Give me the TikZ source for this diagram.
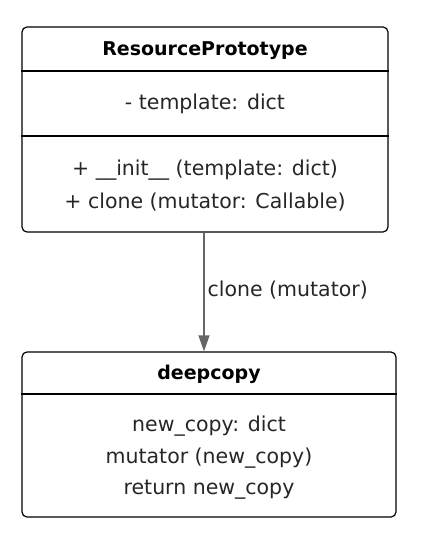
\documentclass[tikz,border=0pt]{standalone}
\usepackage{fontspec}
\setmainfont{DejaVu Sans}
\usetikzlibrary{arrows.meta}
\begin{document}
\begin{tikzpicture}[x=1pt,y=-1pt,
  box/.style={draw=black,line width=1.2pt,rounded corners=5pt,inner sep=0pt},
  txt/.style={inner sep=0pt,font=\fontsize{20.5}{24}\selectfont,text=black!85},
  ttl/.style={inner sep=0pt,font=\fontsize{19}{24}\selectfont\bfseries},
  div/.style={draw=black,line width=1.2pt},
  conn/.style={draw=black!60,line width=1.2pt,-{Triangle[length=16pt,width=11pt]}}]
\useasboundingbox (0,0) rectangle (423,537);
\node[box,minimum width=366pt,minimum height=205pt] (top) at (205,129.5) {};
\node[ttl] (tname) at (205,51) {ResourcePrototype};
\node[txt] (tattr) at (205,104) {- template: dict};
\node[txt] (tm1) at (205,170) {+ \_\_init\_\_ (template: dict)};
\node[txt] (tm2) at (205,202) {+ clone (mutator: Callable)};
\draw[div] (top.west |- 0,71) -- (top.east |- 0,71);
\draw[div] (top.west |- 0,136) -- (top.east |- 0,136);
\node[box,minimum width=374pt,minimum height=165pt] (bot) at (209,434.5) {};
\node[ttl] (bname) at (209,374) {deepcopy};
\node[txt] (b1) at (209,426) {new\_copy: dict};
\node[txt] (b2) at (209,458) {mutator (new\_copy)};
\node[txt] (b3) at (209,490) {return new\_copy};
\draw[div] (bot.west |- 0,394) -- (bot.east |- 0,394);
\coordinate (a0) at (204,233);
\draw[conn] (a0) -- (a0 |- bot.north) node[pos=0.48,right=3pt,txt] (lbl) {clone (mutator)};
\end{tikzpicture}
\end{document}
